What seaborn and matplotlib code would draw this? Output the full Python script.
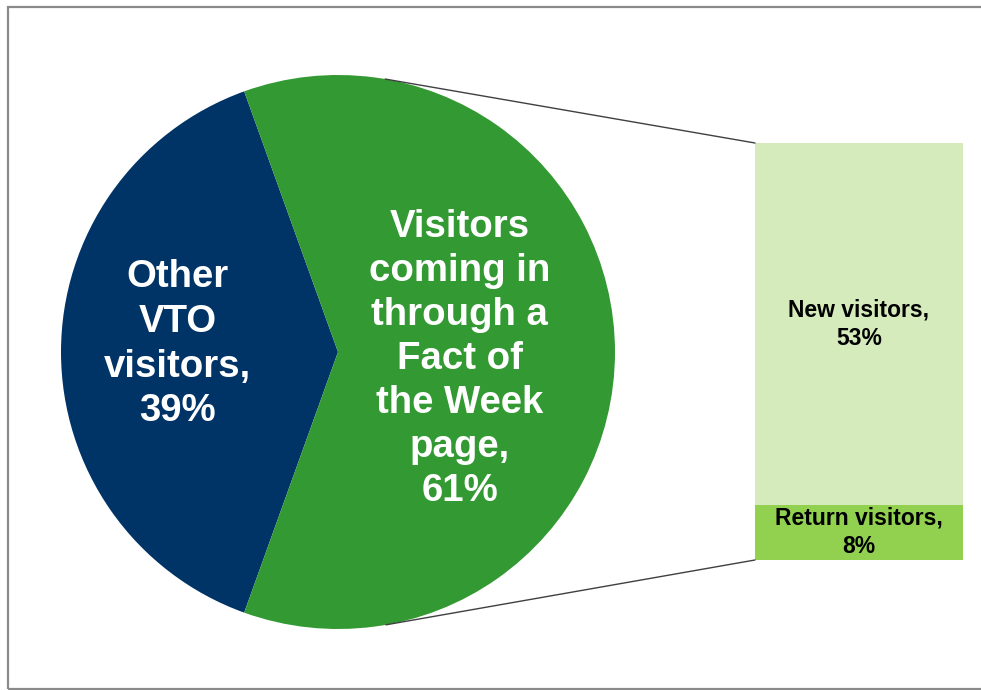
import numpy as np
import matplotlib
matplotlib.use("Agg")
import matplotlib.pyplot as plt
from matplotlib.patches import Rectangle, ConnectionPatch
import pandas as pd
import seaborn as sns

# Main split of VTO visitors
pie_labels = ["Other\nVTO\nvisitors,", "Visitors\ncoming in\nthrough a\nFact of\nthe Week\npage,"]
pie_values = [39, 61]
pie_colors = ["#003366", "#339933"]

# Breakdown of the Fact of the Week visitors
bar_labels = ["Return visitors,", "New visitors,"]
bar_values = [8, 53]
bar_colors = ["#92D050", "#D5EBBC"]

sns.set_theme(style="white")
plt.rcParams["font.family"] = ["Liberation Sans", "DejaVu Sans"]
plt.rcParams["font.weight"] = "bold"

W, H = 981, 690
fig = plt.figure(figsize=(W / 100, H / 100), dpi=100)
fig.patch.set_facecolor("white")


def px_axes(x0, y0, x1, y1):
    """Axes placed by pixel box (top-left origin)."""
    return fig.add_axes([x0 / W, 1 - y1 / H, (x1 - x0) / W, (y1 - y0) / H])


# Outer chart frame
fig.add_artist(Rectangle((8 / W, 1 - 689 / H), 1.2, (689 - 7) / H,
                         transform=fig.transFigure, fill=False,
                         edgecolor="#8a8a8a", linewidth=1.6, zorder=0))

# ---- Pie ----
ax_pie = px_axes(61, 75, 615, 629)
start = 180 - pie_values[0] / sum(pie_values) * 180
ax_pie.pie(pie_values, colors=pie_colors, startangle=start, counterclock=True,
           radius=1.0, wedgeprops=dict(linewidth=0))
ax_pie.set_xlim(-1, 1)
ax_pie.set_ylim(-1, 1)
ax_pie.set_aspect("auto")
ax_pie.axis("off")

total = sum(pie_values)
ax_pie.text(-0.58, 0.028, f"{pie_labels[0]}\n{pie_values[0] / total:.0%}",
            ha="center", va="center", color="white", fontsize=27.6,
            fontweight="bold", linespacing=1.31)
ax_pie.text(0.44, -0.025, f"{pie_labels[1]}\n{pie_values[1] / total:.0%}",
            ha="center", va="center", color="white", fontsize=27.6,
            fontweight="bold", linespacing=1.29)

# ---- Stacked bar ----
ax_bar = px_axes(755, 143, 963, 560)
bottoms = np.concatenate([[0], np.cumsum(bar_values)[:-1]])
for lab, val, bot, col in zip(bar_labels, bar_values, bottoms, bar_colors):
    df = pd.DataFrame({"group": ["FotW"], "share": [val]})
    sns.barplot(data=df, x="group", y="share", color=col, width=1.0,
                bottom=bot, saturation=1, linewidth=0, ax=ax_bar)
    ax_bar.text(0, bot + val / 2, f"{lab}\n{val}%", ha="center", va="center",
                color="black", fontsize=16.5, fontweight="bold", linespacing=1.3)
ax_bar.set_xlim(-0.5, 0.5)
ax_bar.set_ylim(0, sum(bar_values))
ax_bar.axis("off")

# ---- Connector lines: tangents from the bar corners to the pie ----
fig.canvas.draw()
for corner_y in (sum(bar_values), 0):
    corner_disp = ax_bar.transData.transform((-0.5, corner_y))
    cx, cy = ax_pie.transData.inverted().transform(corner_disp)
    d = np.hypot(cx, cy)
    base = np.arctan2(cy, cx)
    off = np.arccos(1.0 / d)
    ang = base + off if corner_y > 0 else base - off
    tx, ty = np.cos(ang), np.sin(ang)
    con = ConnectionPatch(xyA=(tx, ty), coordsA=ax_pie.transData,
                          xyB=(-0.5, corner_y), coordsB=ax_bar.transData,
                          color="#404040", linewidth=1.0, zorder=5)
    fig.add_artist(con)

fig.savefig("out.png", dpi=100, facecolor="white")
